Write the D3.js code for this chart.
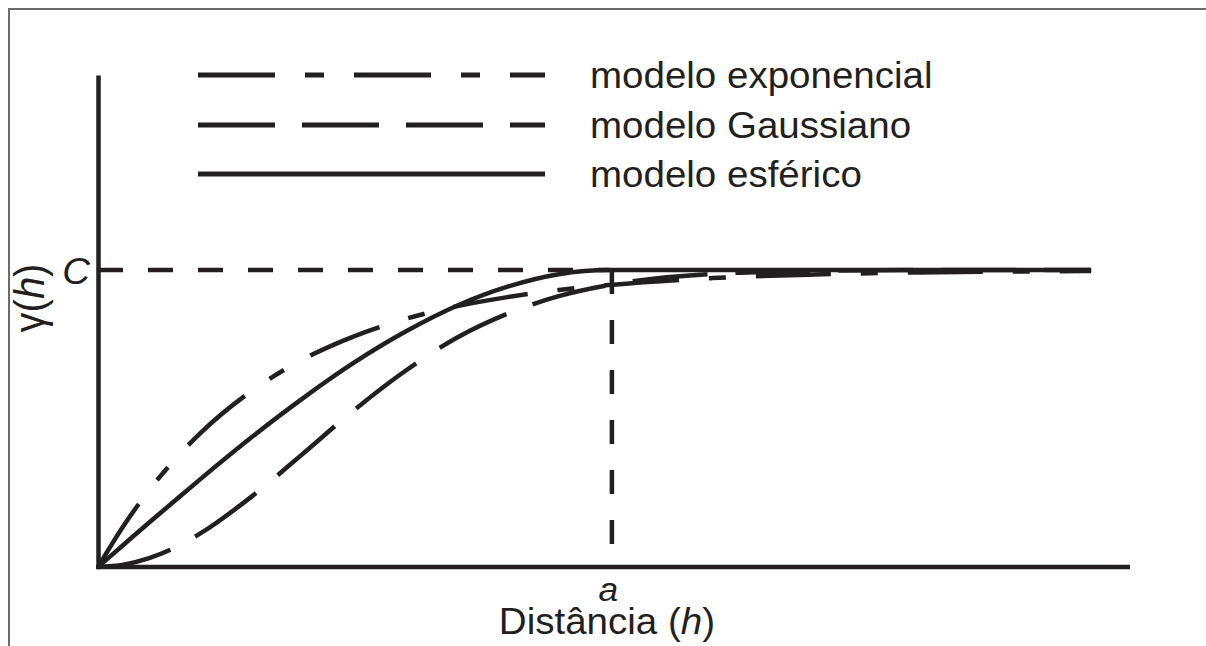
<!DOCTYPE html>
<html>
<head>
<meta charset="utf-8">
<script src="https://cdn.jsdelivr.net/npm/d3@7"></script>
<style>
  html, body { margin: 0; padding: 0; background: #fff; }
  svg { display: block; }
  text { font-family: "Liberation Sans", Arial, Helvetica, sans-serif; fill: #231f20; }
</style>
</head>
<body>
<svg id="chart" width="1206" height="646"></svg>
<script>
// distancia h (em unidades do alcance a)
var hValues = [0, 0.05, 0.1, 0.15, 0.2, 0.3, 0.4, 0.5, 0.6, 0.7, 0.8, 0.9, 1.0, 1.2, 1.4, 1.6, 1.8, 1.94];
// semivariancia (unidades de C)
var expValues   = [0, 0.139, 0.259, 0.362, 0.451, 0.593, 0.699, 0.777, 0.835, 0.878, 0.909, 0.933, 0.950, 0.973, 0.985, 0.992, 0.995, 0.997];
var gaussValues = [0, 0.008, 0.030, 0.065, 0.113, 0.237, 0.381, 0.528, 0.660, 0.771, 0.853, 0.912, 0.950, 0.987, 0.997, 1.0, 1.0, 1.0];
var sphValues   = [0, 0.075, 0.150, 0.223, 0.296, 0.437, 0.568, 0.688, 0.792, 0.879, 0.944, 0.986, 1.0, 1.0, 1.0, 1.0, 1.0, 1.0];

var seriesNames = ["modelo exponencial", "modelo Gaussiano", "modelo esférico"];
var xTickLabels = ["a"];
var yTickLabels = ["C"];
var sill = 1.0;   // C
var range = 1.0;  // a

var ink = "#231f20";
var sx = 1.07; // o texto original e um pouco esticado na horizontal

var svg = d3.select("#chart");

// moldura cinza (so topo e esquerda)
svg.append("path")
  .attr("d", "M9,646 L9,9 L1206,9")
  .attr("fill", "none")
  .attr("stroke", "#6b6b6b")
  .attr("stroke-width", 2);

var x = d3.scaleLinear().domain([0, 2.016]).range([98, 1130]);
var y = d3.scaleLinear().domain([0, 1.657]).range([567, 75]);

var dashes = {
  exp: "75,30,17,30",
  gauss: "75,28",
  sph: null
};

// linhas de referencia C e a
svg.append("line")
  .attr("x1", x(0)).attr("x2", x(range))
  .attr("y1", y(sill)).attr("y2", y(sill))
  .attr("stroke", ink).attr("stroke-width", 4.5)
  .attr("stroke-dasharray", "25,25");
svg.append("line")
  .attr("x1", x(range) + 2).attr("x2", x(range) + 2)
  .attr("y1", y(sill)).attr("y2", y(0))
  .attr("stroke", ink).attr("stroke-width", 4.5)
  .attr("stroke-dasharray", "24,26");

// curvas
var line = d3.line()
  .x(function(d){ return x(d[0]); })
  .y(function(d){ return y(d[1]); })
  .curve(d3.curveMonotoneX);

var curves = [
  {key: "gauss", values: gaussValues},
  {key: "exp", values: expValues},
  {key: "sph", values: sphValues}
];
curves.forEach(function(c){
  var pts = hValues.map(function(h, i){ return [h, c.values[i]]; });
  svg.append("path")
    .datum(pts)
    .attr("d", line)
    .attr("fill", "none")
    .attr("stroke", ink)
    .attr("stroke-width", 4.5)
    .attr("stroke-linejoin", "round")
    .attr("stroke-dasharray", dashes[c.key]);
});

// eixos
var xAxis = d3.axisBottom(x).tickValues([range]).tickSize(0).tickSizeOuter(0)
  .tickFormat(function(d, i){ return xTickLabels[i]; });
var yAxis = d3.axisLeft(y).tickValues([sill]).tickSize(0).tickSizeOuter(0)
  .tickFormat(function(d, i){ return yTickLabels[i]; });

var gx = svg.append("g").attr("transform", "translate(0," + y(0) + ")").call(xAxis);
var gy = svg.append("g").attr("transform", "translate(" + x(0) + ",0)").call(yAxis);

[gx, gy].forEach(function(g){
  g.select(".domain").attr("stroke", ink).attr("stroke-width", 4.5);
});
gx.select(".domain").attr("d", "M" + (x(0) - 2) + ",0H" + x(2.016));

gx.selectAll(".tick text")
  .attr("y", 0).attr("dy", 0)
  .attr("transform", "translate(-2,34) scale(" + sx + ",1)")
  .style("font-size", "33px").style("font-style", "italic")
  .attr("fill", ink);
gy.selectAll(".tick text")
  .attr("x", 0).attr("dy", 0)
  .attr("text-anchor", "end")
  .attr("transform", "translate(-8,13) scale(" + sx + ",1)")
  .style("font-size", "36px").style("font-style", "italic")
  .attr("fill", ink);

// titulo do eixo x
var xt = svg.append("text")
  .attr("text-anchor", "middle")
  .attr("transform", "translate(" + (x(range) - 3) + ",634) scale(" + sx + ",1)")
  .style("font-size", "36px");
xt.append("tspan").text("Distância (");
xt.append("tspan").style("font-style", "italic").text("h");
xt.append("tspan").text(")");

// titulo do eixo y
var yt = svg.append("text")
  .attr("text-anchor", "middle")
  .attr("transform", "translate(44,298) rotate(-90) scale(1," + sx + ")")
  .style("font-size", "40px");
yt.append("tspan").text("γ(");
yt.append("tspan").style("font-style", "italic").text("h");
yt.append("tspan").text(")");

// legenda
var legendDash = ["77,30,19,30", "77,27", null];
var legendY = [75, 125, 174];
var legend = svg.append("g");
seriesNames.forEach(function(name, i){
  legend.append("line")
    .attr("x1", 198).attr("x2", 545)
    .attr("y1", legendY[i]).attr("y2", legendY[i])
    .attr("stroke", ink).attr("stroke-width", 5)
    .attr("stroke-dasharray", legendDash[i]);
  legend.append("text")
    .attr("transform", "translate(590," + (legendY[i] + 13) + ") scale(" + sx + ",1)")
    .style("font-size", "36px")
    .text(name);
});
</script>
</body>
</html>
